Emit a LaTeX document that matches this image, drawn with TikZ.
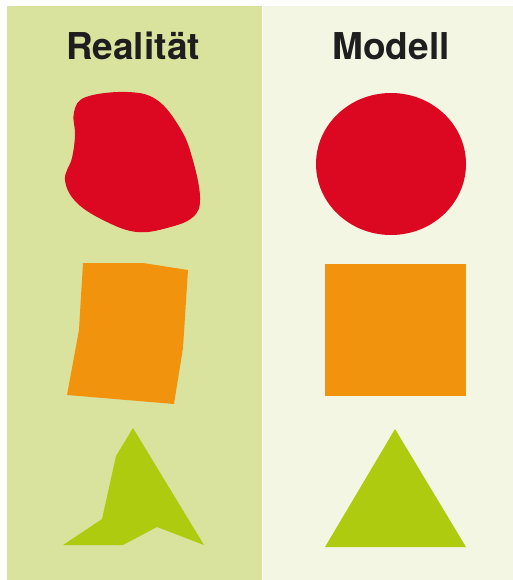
\documentclass[tikz,border=0pt]{standalone}
\usepackage{fontspec}
\setmainfont{TeX Gyre Heros}
\definecolor{realbg}{RGB}{217,227,158}
\definecolor{modbg}{RGB}{243,246,227}
\definecolor{rot}{RGB}{220,7,32}
\definecolor{orange}{RGB}{242,147,13}
\definecolor{gruen}{RGB}{175,203,15}
\definecolor{schrift}{RGB}{30,30,30}
\begin{document}
\begin{tikzpicture}[x=1pt, y=-1pt, title/.style = {font=\fontsize{37}{37}\selectfont\bfseries, text=schrift, anchor=base}]

		\useasboundingbox (0,0) rectangle (513,580);
		\fill[realbg] (7,6) rectangle (262,580);
		\fill[modbg] (262.5,6) rectangle (513,580);

		\node[title] (R) at (133,60) {Realität};
		\node[title] (M) at (391,60) {Modell};

		% Realitaet
		\fill[rot] plot[smooth cycle, tension=0.65] coordinates {(74,112) (86,97) (127,92) (157,100) (180,128) (192,157) (200,197) (193,217) (167,228) (137,232) (107,222) (77,203) (65,180) (72,158) (75,135)};
		\fill[orange] (83,263) -- (143,263) -- (188,270) -- (183,348) -- (174,404) -- (67,395) -- (79,330) -- cycle;
		\fill[gruen] (133,428) -- (204,545) -- (157,527) -- (123,545) -- (63,545) -- (102,519) -- (116,456) -- cycle;

		% Modell
		\fill[rot] (391,164) ellipse [x radius=75, y radius=71];
		\fill[orange] (325,264) rectangle (466,396);
		\fill[gruen] (395,429) -- (466,547) -- (325,547) -- cycle;
	\end{tikzpicture}
\end{document}
